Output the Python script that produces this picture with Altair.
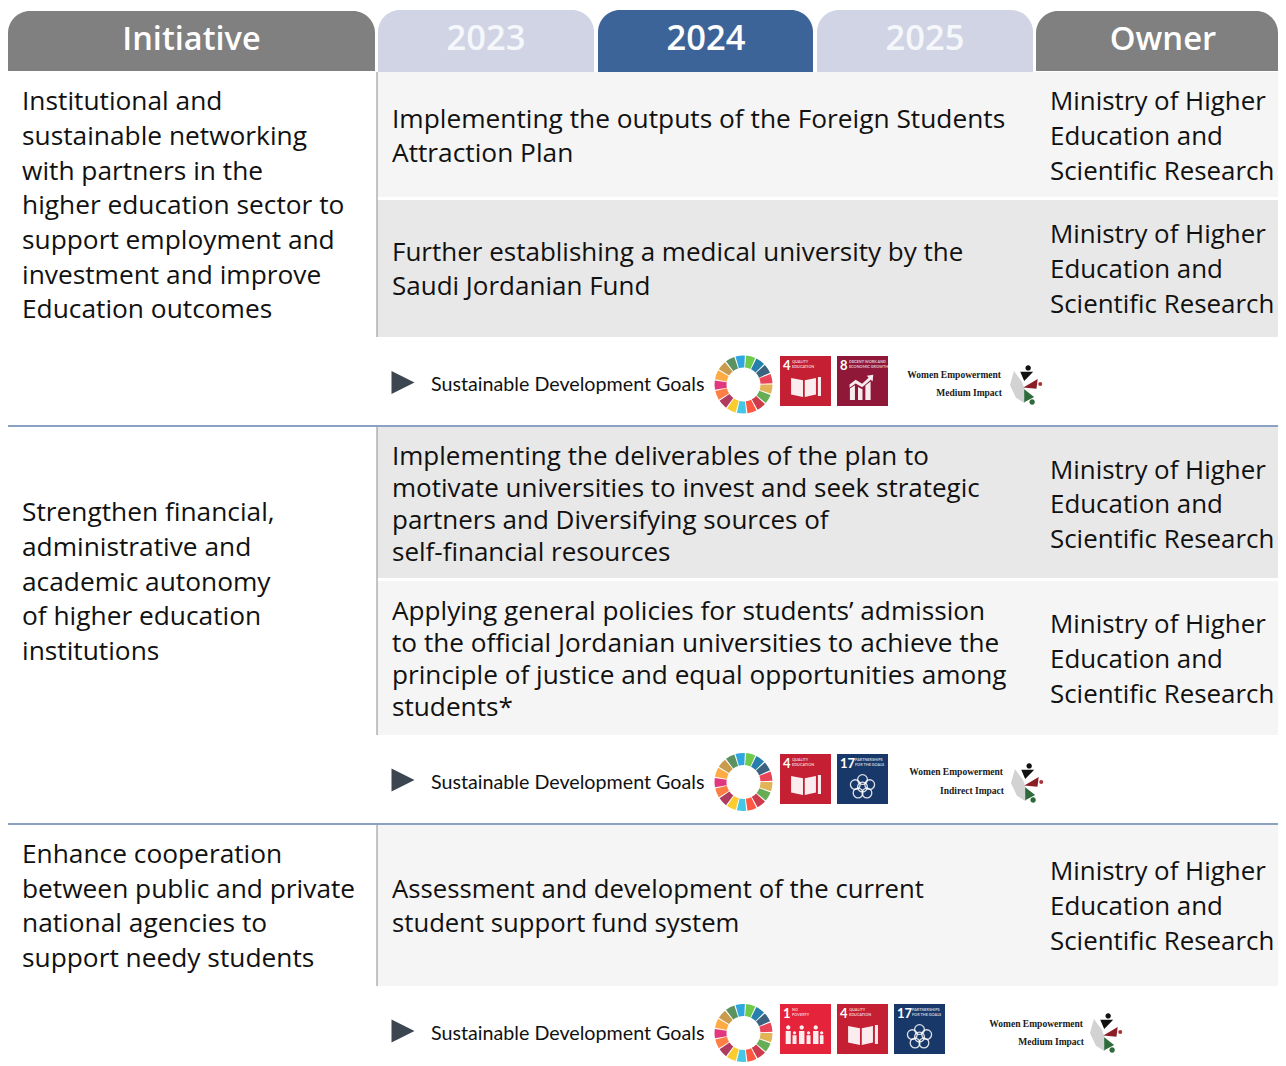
import altair as alt
import pandas as pd

W, H = 1270, 1058
OX, OY = 8, 8
FONT = "Open Sans"

# ---------- content ----------
header_labels = ["Initiative", "2023", "2024", "2025", "Owner"]
header_colors = ["#808080", "#d0d4e5", "#3d6499", "#d0d4e5", "#808080"]
header_text_colors = ["#ffffff", "#f6f7fb", "#ffffff", "#f6f7fb", "#ffffff"]

initiatives = [
    ["Institutional and", "sustainable networking", "with partners in the", "higher education sector to",
     "support employment and", "investment and improve", "Education outcomes"],
    ["Strengthen financial,", "administrative and", "academic autonomy", "of higher education", "institutions"],
    ["Enhance cooperation", "between public and private", "national agencies to", "support needy students"],
]
activities = [
    ["Implementing the outputs of the Foreign Students", "Attraction Plan"],
    ["Further establishing a medical university by the", "Saudi Jordanian Fund"],
    ["Implementing the deliverables of the plan to", "motivate universities to invest and seek strategic",
     "partners and Diversifying sources of", "self-financial resources"],
    ["Applying general policies for students\u2019 admission", "to the official Jordanian universities to achieve the",
     "principle of justice and equal opportunities among", "students*"],
    ["Assessment and development of the current", "student support fund system"],
]
owner_lines = ["Ministry of Higher", "Education and", "Scientific Research"]
sdg_label = "Sustainable Development Goals"
women_label = "Women Empowerment"
impacts = ["Medium Impact", "Indirect Impact", "Medium Impact"]
sdg_sets = [[4, 8], [4, 17], [1, 4, 17]]
tile_captions = {1: ["NO", "POVERTY"], 4: ["QUALITY", "EDUCATION"], 8: ["DECENT WORK AND", "ECONOMIC GROWTH"],
                 17: ["PARTNERSHIPS", "FOR THE GOALS"]}
tile_colors = {1: "#e5243b", 4: "#c41f33", 8: "#8f1838", 17: "#19386a"}
wheel_colors = ["#0a97d9", "#56c02b", "#00689d", "#19486a", "#e5243b", "#dda63a", "#4c9f38", "#c5192d", "#ff3a21",
                "#26bde2", "#fcc30b", "#a21942", "#fd6925", "#dd1367", "#fd9d24", "#bf8b2e", "#3f7e44"]

# ---------- layout (page pixels) ----------
header_boxes = [(8, 375, 11, 71), (378, 594, 10, 72), (598, 813, 10, 72), (817, 1033, 10, 72), (1036, 1286, 11, 71)]
header_centres = [191.5, 486, 706, 925, 1163]
header_sizes = [32.5, 34.5, 34.5, 34.5, 32.8]
row_boxes = [(72, 197, "#f5f5f5"), (200, 337, "#e9e8e8"), (427, 578, "#e9e8e8"), (581, 735, "#f5f5f5"), (825, 986, "#f5f5f5")]
divider_ys = [426, 824]
vertical_spans = [(72, 337), (427, 735), (825, 986)]
init_baselines = [[110, 145, 180, 214, 249, 284, 318], [521, 556, 591, 625, 660], [863, 898, 932, 967]]
act_baselines = [[128, 162], [261, 295], [465, 497, 529, 561], [620, 652, 684, 716], [898, 932]]
own_baselines = [[110, 145, 180], [243, 278, 313], [479, 513, 548], [633, 668, 703], [880, 915, 950]]
act_sizes = [26.3, 26.0, 26.0, 26.2, 25.7]
wheel_ys = [384.5, 782, 1033]
tile_tops = [356, 754, 1004]
tile_lefts = [780, 837, 894]
women_right = [1001, 1003, 1083]
women_y = [(378, 396), (775, 794), (1027, 1045)]
logo_xy = [(1026, 387), (1027, 785), (1106, 1035)]
triangle_ys = [382.5, 780, 1031]
sdg_baselines = [[391], [789], [1040]]

def px(x): return min(x, OX + W) - OX
def py(y): return y - OY

X = alt.Scale(domain=[0, W], range=[0, W], nice=False, zero=False)
Y = alt.Scale(domain=[0, H], range=[0, H], nice=False, zero=False)
x_ = lambda f="x": alt.X(f"{f}:Q", scale=X, axis=None)
x2_ = lambda f="x2": alt.X2(f"{f}:Q")
y_ = lambda f="y": alt.Y(f"{f}:Q", scale=Y, axis=None)
y2_ = lambda f="y2": alt.Y2(f"{f}:Q")

layers = []

# row backgrounds
df = pd.DataFrame([dict(x=px(377), x2=px(1286), y=py(a), y2=py(b), c=c) for a, b, c in row_boxes])
layers.append(alt.Chart(df).mark_rect().encode(x=x_(), x2=x2_(), y=y_(), y2=y2_(),
                                              color=alt.Color("c:N", scale=None)))

# headers
df = pd.DataFrame([dict(x=px(a), x2=px(b), y=py(t), y2=py(u), c=c)
                   for (a, b, t, u), c in zip(header_boxes, header_colors)])
layers.append(alt.Chart(df).mark_rect(cornerRadiusTopLeft=22, cornerRadiusTopRight=22).encode(
    x=x_(), x2=x2_(), y=y_(), y2=y2_(), color=alt.Color("c:N", scale=None)))
df = pd.DataFrame([dict(x=px(m), y=py(50), t=l, c=c, fs=s)
                   for m, l, c, s in zip(header_centres, header_labels, header_text_colors, header_sizes)])
layers.append(alt.Chart(df).mark_text(font=FONT, fontWeight=600, align="center", baseline="alphabetic").encode(
    x=x_(), y=y_(), text="t:N", color=alt.Color("c:N", scale=None), size=alt.Size("fs:Q", scale=None)))

# rules
df = pd.DataFrame([dict(x=px(377), y=py(a), y2=py(b)) for a, b in vertical_spans])
layers.append(alt.Chart(df).mark_rule(color="#8c8c8c", strokeWidth=1).encode(x=x_(), y=y_(), y2=y2_()))
df = pd.DataFrame([dict(x=px(7), x2=px(1286), y=py(v)) for v in divider_ys])
layers.append(alt.Chart(df).mark_rule(color="#6482ad", strokeWidth=1.4).encode(x=x_(), x2=x2_(), y=y_()))

# body text
def text_layer(groups, baselines, x, sizes, color="#111111", font=FONT, **kw):
    rows = []
    for g, b, s in zip(groups, baselines, sizes):
        for t, v in zip(g, b):
            rows.append(dict(x=px(x), y=py(v), t=t, fs=s))
    return alt.Chart(pd.DataFrame(rows)).mark_text(font=font, align="left", baseline="alphabetic",
                                                   color=color, **kw).encode(
        x=x_(), y=y_(), text="t:N", size=alt.Size("fs:Q", scale=None))

layers.append(text_layer(initiatives, init_baselines, 22, [26.3] * 3))
layers.append(text_layer(activities, act_baselines, 392, act_sizes))
layers.append(text_layer([owner_lines] * 5, own_baselines, 1050, [25.9] * 5))

# SDG strip
df = pd.DataFrame([dict(x=px(403), y=py(v)) for v in triangle_ys])
layers.append(alt.Chart(df).mark_point(shape="M-1,-1 L1,0 L-1,1 Z", size=529, filled=True, color="#3c4650", opacity=1).encode(x=x_(), y=y_()))
layers.append(text_layer([[sdg_label]] * 3, sdg_baselines, 431, [19.7] * 3, font="Lato"))

# wheels
rows = []
for wy in wheel_ys:
    for i, c in enumerate(wheel_colors):
        rows.append(dict(x=px(743.5), y=py(wy), a=i + 0.06, b=i + 0.94, c=c, w=wy))
layers.append(alt.Chart(pd.DataFrame(rows)).mark_arc(innerRadius=17, outerRadius=29, opacity=.85).encode(
    x=x_(), y=y_(),
    theta=alt.Theta("a:Q", scale=alt.Scale(domain=[0, 17], range=[-0.3, 5.983]), stack=None),
    theta2=alt.Theta2("b:Q"),
    color=alt.Color("c:N", scale=None)))

# tiles
tile_rows, num_rows, cap_rows = [], [], []
for top, goals in zip(tile_tops, sdg_sets):
    for left, g in zip(tile_lefts, goals):
        tile_rows.append(dict(x=px(left), x2=px(left + 51), y=py(top), y2=py(top + 50), c=tile_colors[g]))
        num_rows.append(dict(x=px(left + 3), y=py(top + 14), t=str(g)))
        for j, line in enumerate(tile_captions[g]):
            cap_rows.append(dict(x=px(left + (18 if g == 17 else 12)), y=py(top + 7 + j * 5), t=line))
layers.append(alt.Chart(pd.DataFrame(tile_rows)).mark_rect().encode(x=x_(), x2=x2_(), y=y_(), y2=y2_(),
                                                                    color=alt.Color("c:N", scale=None)))
layers.append(alt.Chart(pd.DataFrame(num_rows)).mark_text(font="Lato", fontSize=13, fontWeight=700, align="left", baseline="alphabetic", color="#ffffff").encode(
    x=x_(), y=y_(), text="t:N"))
layers.append(alt.Chart(pd.DataFrame(cap_rows)).mark_text(font="Lato", fontSize=3.8, fontWeight=700, align="left", baseline="alphabetic", color="#ffffff", opacity=.75).encode(
    x=x_(), y=y_(), text="t:N"))

# tile icons (unit paths: -1..1 spans sqrt(size) pixels)
icon_paths = {
    4: "M-0.8,-0.5 L-0.14,-0.38 L-0.14,0.55 L-0.8,0.42 Z M-0.04,-0.38 L0.58,-0.5 L0.58,0.42 L-0.04,0.55 Z M0.69,-0.55 L0.86,-0.55 L0.86,0.5 L0.69,0.5 Z",
    8: "M-0.7,0.72 L-0.7,0.08 L-0.42,-0.1 L-0.42,0.72 Z M-0.25,0.72 L-0.25,0 L0,0.12 L0,0.72 Z M0.16,0.72 L0.16,-0.08 L0.45,-0.3 L0.45,0.72 Z M-0.72,-0.14 L-0.38,-0.4 L-0.02,-0.18 L0.34,-0.52 L0.24,-0.62 L0.6,-0.68 L0.56,-0.3 L0.46,-0.4 L-0.02,0.02 L-0.38,-0.2 L-0.72,0.04 Z",
    1: "M-1.1,-0.22 L-0.82,-0.22 L-0.82,0.5 L-1.1,0.5 Z M-0.72,0.02 L-0.5,0.02 L-0.5,0.5 L-0.72,0.5 Z M-0.36,-0.22 L-0.06,-0.22 L-0.06,0.5 L-0.36,0.5 Z M0.06,0.02 L0.28,0.02 L0.28,0.5 L0.06,0.5 Z M0.42,-0.22 L0.72,-0.22 L0.72,0.5 L0.42,0.5 Z M0.8,0.02 L1.0,0.02 L1.0,0.5 L0.8,0.5 Z M-1.08,-0.42 a0.12,0.12 0 1,0 0.24,0 a0.12,0.12 0 1,0 -0.24,0 Z M-0.33,-0.42 a0.12,0.12 0 1,0 0.24,0 a0.12,0.12 0 1,0 -0.24,0 Z M0.45,-0.42 a0.12,0.12 0 1,0 0.24,0 a0.12,0.12 0 1,0 -0.24,0 Z M-0.7,-0.12 a0.09,0.09 0 1,0 0.18,0 a0.09,0.09 0 1,0 -0.18,0 Z M0.08,-0.12 a0.09,0.09 0 1,0 0.18,0 a0.09,0.09 0 1,0 -0.18,0 Z M0.81,-0.12 a0.09,0.09 0 1,0 0.18,0 a0.09,0.09 0 1,0 -0.18,0 Z",
}
flower_centres = [(0, -0.62), (0.6, -0.2), (0.37, 0.5), (-0.37, 0.5), (-0.6, -0.2)]
icon_rows = {"fill": [], "ring": []}
for top, goals in zip(tile_tops, sdg_sets):
    for left, g in zip(tile_lefts, goals):
        if g in icon_paths:
            icon_rows["fill"].append(dict(x=px(left + 25.5), y=py(top + 31), s=icon_paths[g]))
        else:
            for cx, cy in flower_centres:
                icon_rows["ring"].append(dict(x=px(left + 25.5 + cx * 12), y=py(top + 33 + cy * 12)))
            icon_rows["ring"].append(dict(x=px(left + 25.5), y=py(top + 33)))
for s in icon_paths.values():
    d = pd.DataFrame([r for r in icon_rows["fill"] if r["s"] == s])
    if len(d):
        layers.append(alt.Chart(d).mark_point(shape=s, size=1296, filled=True, color="#ffffff", opacity=.92).encode(x=x_(), y=y_()))
layers.append(alt.Chart(pd.DataFrame(icon_rows["ring"])).mark_point(shape="circle", size=95, filled=False, color="#ffffff", strokeWidth=1.3, opacity=.85).encode(x=x_(), y=y_()))

# women empowerment
rows = []
for r, (a, b), imp in zip(women_right, women_y, impacts):
    rows.append(dict(x=px(r), y=py(a), t=women_label))
    rows.append(dict(x=px(r + 1), y=py(b), t=imp))
layers.append(alt.Chart(pd.DataFrame(rows)).mark_text(font="Liberation Serif", fontSize=9.5, fontWeight=700, align="right", baseline="alphabetic", color="#1a1a1a").encode(
    x=x_(), y=y_(), text="t:N"))

logo_parts = [
    ("M-0.67,-0.89 L-0.22,-0.28 L-0.05,0.22 L-0.1,0.61 L-0.05,0.92 L-0.56,0.6 L-0.89,-0.11 Z", "#d2d2d2"),
    ("M-0.32,-0.85 L0.4,-0.85 L-0.1,-0.34 Z M-0.03,-1.06 a0.15,0.15 0 1,0 0.3,0 a0.15,0.15 0 1,0 -0.3,0 Z", "#111111"),
    ("M-0.15,0.03 L0.65,-0.45 L0.58,0.1 Z", "#8b1e24"),
    ("M-0.1,0.12 L0.45,0.55 L-0.1,0.85 Z M0.19,0.83 a0.15,0.15 0 1,0 0.3,0 a0.15,0.15 0 1,0 -0.3,0 Z", "#2e6b3a"),
    ("M0.68,-0.17 a0.11,0.11 0 1,0 0.22,0 a0.11,0.11 0 1,0 -0.22,0 Z", "#a8323a"),
]
logo_df = pd.DataFrame([dict(x=px(a), y=py(b)) for a, b in logo_xy])
for path, colour in logo_parts:
    layers.append(alt.Chart(logo_df).mark_point(shape=path, size=1296, filled=True, color=colour, opacity=1).encode(x=x_(), y=y_()))

chart = alt.layer(*layers).properties(
    width=W, height=H, padding=0, autosize=alt.AutoSizeParams(type="none"),
    background="#ffffff",
).configure_view(stroke=None)

chart.save("out.html", embed_options={"renderer": "svg", "actions": False})
